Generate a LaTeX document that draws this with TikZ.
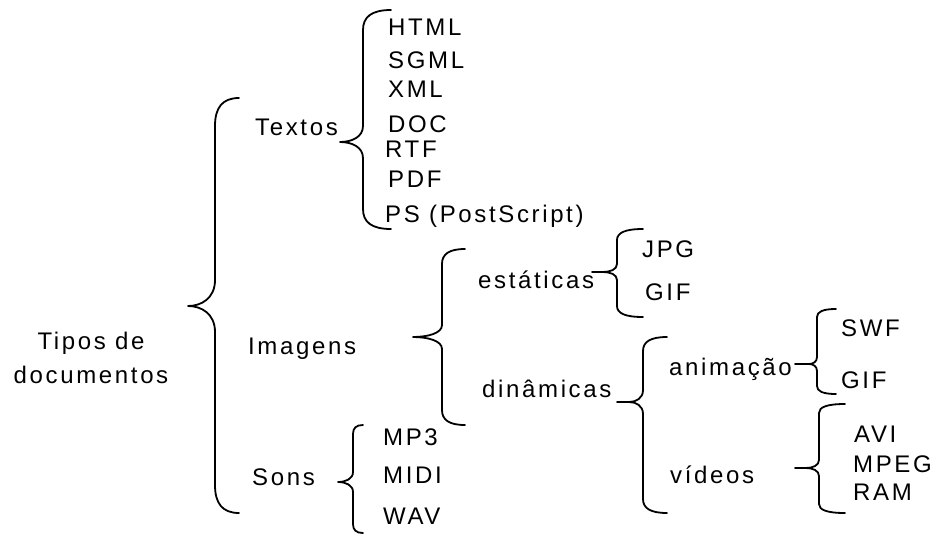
\documentclass[tikz,border=0pt]{standalone}
\usepackage{fontspec}
\setmainfont{Liberation Sans}[LetterSpace=11]
\begin{document}
\begin{tikzpicture}[x=1pt,y=-1pt,
  lbl/.style={inner sep=0pt, anchor=base west, font=\fontsize{24}{34}\selectfont},
  bracestroke/.style={draw=black, line width=1.8pt, line join=round, line cap=round}]
% curly brace: vx, top, mid, bottom, tip x, end x, hook height, cusp half-height, cusp width
\newcommand\cbrace[9]{%
  \draw[bracestroke] (#6,#2) .. controls ({#1+0.3*(#6-#1)},#2) and (#1,{#2+0.35*#7}) .. (#1,#2+#7)
    -- (#1,#3-#8) .. controls (#1,{#3-0.3*#8}) and ({#1-0.5*#9},#3) .. ({#1-#9},#3) -- (#5,#3)
    -- ({#1-#9},#3) .. controls ({#1-0.5*#9},#3) and (#1,{#3+0.3*#8}) .. (#1,#3+#8)
    -- (#1,#4-#7) .. controls (#1,{#4-0.35*#7}) and ({#1+0.3*(#6-#1)},#4) .. (#6,#4);}
\useasboundingbox (0,0) rectangle (937,536);

% root
\node[inner sep=0pt, align=center, font=\fontsize{24}{34}\selectfont] (tipos) at (91,358) {Tipos de\\documentos};
\cbrace{215}{98}{306}{513}{188}{239}{28}{26}{27}

% first level
\node[lbl] (textos) at (255,135) {Textos};
\node[lbl] (imagens) at (248,354) {Imagens};
\node[lbl] (sons) at (252,485) {Sons};

% text formats
\cbrace{363}{10}{142}{229}{340}{391}{20}{16}{23}
\node[lbl] (html) at (388,35) {HTML};
\node[lbl] (sgml) at (388,68) {SGML};
\node[lbl] (xml) at (388,97) {XML};
\node[lbl] (doc) at (388,132) {DOC};
\node[lbl] (rtf) at (385,157) {RTF};
\node[lbl] (pdf) at (388,187) {PDF};
\node[lbl] (ps) at (385,222) {PS (PostScript)};

% images
\cbrace{442}{249}{337}{425}{413}{465}{15}{12}{29}
\node[lbl] (estaticas) at (478,288) {estáticas};
\node[lbl] (dinamicas) at (482,397) {dinâmicas};

\cbrace{617}{229}{272}{317}{592}{643}{11}{8}{14}
\node[lbl] (jpg) at (642,257) {JPG};
\node[lbl] (gif1) at (645,300) {GIF};

\cbrace{643}{337}{402}{513}{617}{667}{14}{12}{14}
\node[lbl] (animacao) at (669,375) {animação};
\node[lbl] (videos) at (670,483) {vídeos};

\cbrace{817}{309}{364}{394}{795}{836}{8}{7}{8}
\node[lbl] (swf) at (841,336) {SWF};
\node[lbl] (gif2) at (841,388) {GIF};

\cbrace{819}{404}{468}{513}{795}{845}{9}{8}{13}
\node[lbl] (avi) at (854,442) {AVI};
\node[lbl] (mpeg) at (853,472) {MPEG};
\node[lbl] (ram) at (853,500) {RAM};

% sounds
\cbrace{353}{425}{482}{533}{338}{363}{9}{10}{15}
\node[lbl] (mp3) at (383,445) {MP3};
\node[lbl] (midi) at (383,483) {MIDI};
\node[lbl] (wav) at (383,524) {WAV};
\end{tikzpicture}
\end{document}
